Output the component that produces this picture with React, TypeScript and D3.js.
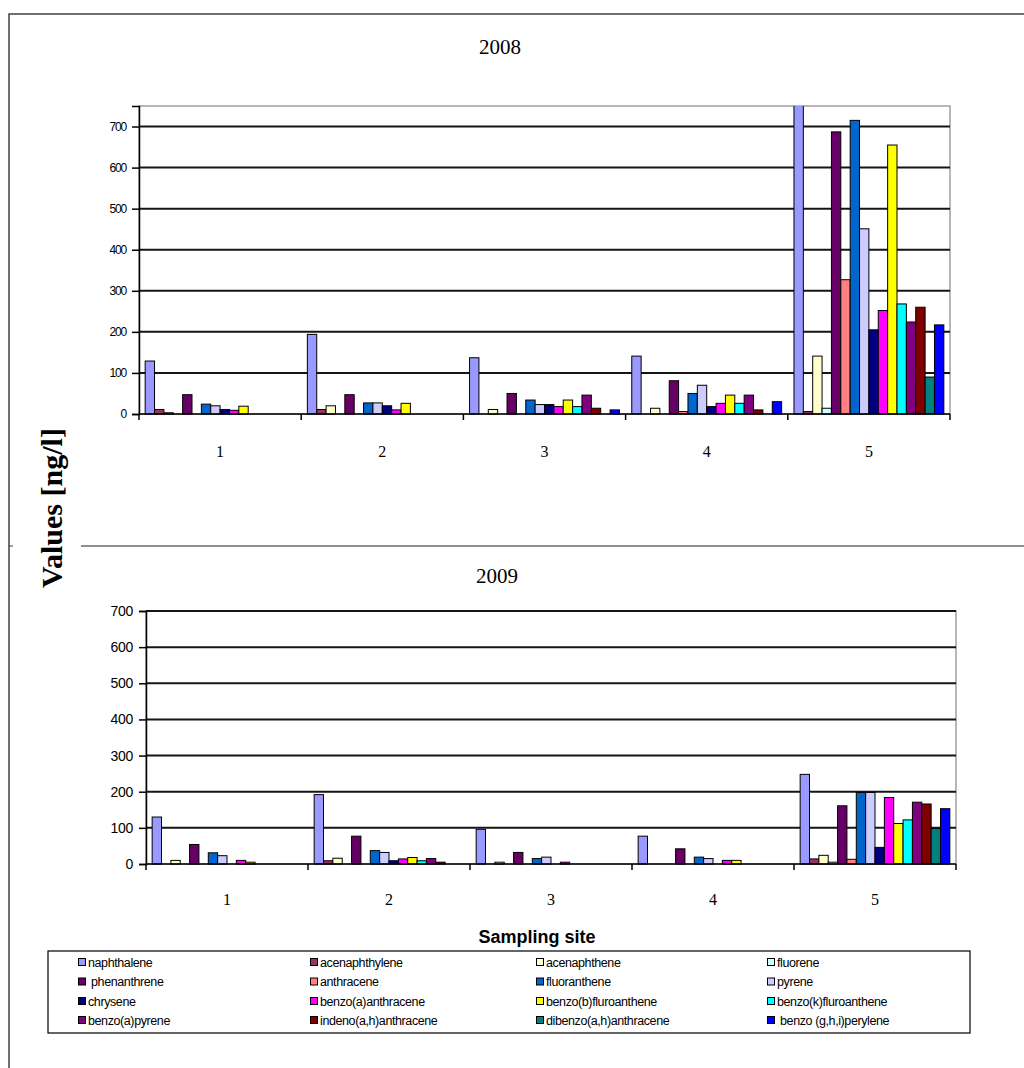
import { useEffect, useRef } from "react";
import * as d3 from "d3";

const sites = ["1", "2", "3", "4", "5"];

const compounds = [
  "naphthalene",
  "acenaphthylene",
  "acenaphthene",
  "fluorene",
  "phenanthrene",
  "anthracene",
  "fluoranthene",
  "pyrene",
  "chrysene",
  "benzo(a)anthracene",
  "benzo(b)fluoranthene",
  "benzo(k)fluoranthene",
  "benzo(a)pyrene",
  "indeno(a,h)anthracene",
  "dibenzo(a,h)anthracene",
  "benzo(g,h,i)perylene",
];

// legend texts as printed in the figure
const legendLabels = [
  "naphthalene",
  "acenaphthylene",
  "acenaphthene",
  "fluorene",
  " phenanthrene",
  "anthracene",
  "fluoranthene",
  "pyrene",
  "chrysene",
  "benzo(a)anthracene",
  "benzo(b)fluroanthene",
  "benzo(k)fluroanthene",
  "benzo(a)pyrene",
  "indeno(a,h)anthracene",
  "dibenzo(a,h)anthracene",
  " benzo (g,h,i)perylene",
];

const colors = [
  "#9999FF",
  "#993366",
  "#FFFFCC",
  "#CCFFFF",
  "#660066",
  "#FF8080",
  "#0066CC",
  "#CCCCFF",
  "#000080",
  "#FF00FF",
  "#FFFF00",
  "#00FFFF",
  "#800080",
  "#800000",
  "#008080",
  "#0000FF",
];

// one row per sampling site, one value per compound (ng/l)
const values2008 = [
  [129, 11, 3, 0, 47, 0, 24, 20, 11, 9, 19, 0, 0, 0, 0, 0],
  [194, 11, 20, 0, 47, 0, 27, 27, 20, 10, 26, 0, 0, 0, 0, 0],
  [137, 0, 11, 0, 50, 0, 34, 23, 23, 18, 34, 18, 46, 14, 0, 10],
  [141, 0, 14, 0, 81, 6, 50, 70, 18, 26, 46, 26, 46, 10, 0, 30],
  [800, 6, 141, 14, 687, 327, 715, 451, 205, 252, 655, 268, 224, 260, 90, 217],
];

const values2009 = [
  [130, 0, 10, 0, 54, 0, 31, 23, 0, 10, 5, 0, 0, 0, 0, 0],
  [192, 9, 16, 0, 77, 0, 37, 32, 9, 14, 18, 9, 15, 5, 0, 0],
  [96, 0, 5, 0, 32, 0, 15, 19, 0, 5, 0, 0, 0, 0, 0, 0],
  [77, 0, 0, 0, 42, 0, 19, 15, 0, 10, 10, 0, 0, 0, 0, 0],
  [248, 14, 24, 5, 161, 13, 198, 198, 46, 184, 112, 122, 171, 166, 98, 153],
];

const yTicks = [0, 100, 200, 300, 400, 500, 600, 700];

const SERIF = "'Liberation Serif', 'Times New Roman', serif";
const SANS = "'Liberation Sans', Arial, sans-serif";

interface PanelOpts {
  id: string;
  title: string;
  titleX: number;
  titleY: number;
  left: number;
  right: number;
  top: number;
  bottom: number;
  yMax: number;
  values: number[][];
  tickFont: number;
  tickSpacing: number;
  catY: number;
}

function drawPanel(
  svg: d3.Selection<SVGSVGElement, unknown, null, undefined>,
  o: PanelOpts
) {
  const g = svg.append("g");
  const y = d3.scaleLinear().domain([0, o.yMax]).range([o.bottom, o.top]);
  const x0 = d3
    .scaleBand<string>()
    .domain(sites)
    .range([o.left, o.right])
    .paddingInner(0.076)
    .paddingOuter(0.038);
  const x1 = d3
    .scaleBand<string>()
    .domain(compounds)
    .range([0, x0.bandwidth()]);

  g.append("text")
    .attr("x", o.titleX)
    .attr("y", o.titleY)
    .attr("text-anchor", "middle")
    .style("font-family", SERIF)
    .style("font-size", "21px")
    .text(o.title);

  // plot area border (grey top / right)
  g.append("rect")
    .attr("x", o.left)
    .attr("y", o.top)
    .attr("width", o.right - o.left)
    .attr("height", o.bottom - o.top)
    .attr("fill", "none")
    .attr("stroke", "#a0a0a0")
    .attr("stroke-width", 1.5);

  // gridlines
  g.selectAll(".grid")
    .data(yTicks.filter((t) => t > 0))
    .join("line")
    .attr("x1", o.left)
    .attr("x2", o.right)
    .attr("y1", (d) => y(d))
    .attr("y2", (d) => y(d))
    .attr("stroke", "#151515")
    .attr("stroke-width", 2);

  const clipId = `clip-${o.id}`;
  svg
    .append("clipPath")
    .attr("id", clipId)
    .append("rect")
    .attr("x", o.left)
    .attr("y", o.top)
    .attr("width", o.right - o.left)
    .attr("height", o.bottom - o.top + 1);

  const bars = g.append("g").attr("clip-path", `url(#${clipId})`);
  sites.forEach((site, si) => {
    bars
      .append("g")
      .attr("transform", `translate(${x0(site)},0)`)
      .selectAll("rect")
      .data(o.values[si].map((v, ci) => ({ v, ci })).filter((d) => d.v > 0))
      .join("rect")
      .attr("x", (d) => x1(compounds[d.ci]) as number)
      .attr("width", x1.bandwidth())
      .attr("y", (d) => y(d.v))
      .attr("height", (d) => o.bottom - y(d.v))
      .attr("fill", (d) => colors[d.ci])
      .attr("stroke", "#000")
      .attr("stroke-width", 1);
  });

  // y axis
  const yAxis = g
    .append("g")
    .attr("transform", `translate(${o.left},0)`)
    .call(d3.axisLeft(y).tickValues(yTicks).tickSize(7).tickPadding(6));
  yAxis.select(".domain").attr("stroke", "#000").attr("stroke-width", 1.5);
  yAxis.selectAll(".tick line").attr("stroke", "#000").attr("stroke-width", 1.5);
  yAxis
    .selectAll("text")
    .style("font-family", SANS)
    .style("font-size", `${o.tickFont}px`)
    .style("letter-spacing", `${o.tickSpacing}px`)
    .attr("fill", "#000");

  // x axis: line with ticks at category boundaries
  g.append("line")
    .attr("x1", o.left)
    .attr("x2", o.right)
    .attr("y1", o.bottom)
    .attr("y2", o.bottom)
    .attr("stroke", "#000")
    .attr("stroke-width", 1.5);
  const step = x0.step();
  g.selectAll(".xtick")
    .data(d3.range(sites.length + 1))
    .join("line")
    .attr("x1", (i) => o.left + i * step)
    .attr("x2", (i) => o.left + i * step)
    .attr("y1", o.bottom)
    .attr("y2", o.bottom + 6)
    .attr("stroke", "#000")
    .attr("stroke-width", 1.5);
  g.selectAll(".xlab")
    .data(sites)
    .join("text")
    .attr("x", (d) => (x0(d) as number) + x0.bandwidth() / 2)
    .attr("y", o.catY)
    .attr("text-anchor", "middle")
    .style("font-family", SERIF)
    .style("font-size", "16px")
    .text((d) => d);
}

function App() {
  const svgRef = useRef<SVGSVGElement | null>(null);

  useEffect(() => {
    if (!svgRef.current) return;
    const svg = d3.select(svgRef.current);
    svg.selectAll("*").remove();

    svg.append("rect").attr("width", 1024).attr("height", 1068).attr("fill", "#fff");

    // outer frame lines
    svg
      .append("path")
      .attr("d", "M9,1068 L9,14 L1024,14")
      .attr("fill", "none")
      .attr("stroke", "#404040")
      .attr("stroke-width", 1.5);
    svg
      .append("line")
      .attr("x1", 81)
      .attr("x2", 1024)
      .attr("y1", 546)
      .attr("y2", 546)
      .attr("stroke", "#202020")
      .attr("stroke-width", 1.2);
    svg
      .append("line")
      .attr("x1", 9)
      .attr("x2", 13)
      .attr("y1", 546)
      .attr("y2", 546)
      .attr("stroke", "#404040");

    drawPanel(svg, {
      id: "p2008",
      title: "2008",
      titleX: 500,
      titleY: 54,
      left: 139,
      right: 950,
      top: 106,
      bottom: 414,
      yMax: 750,
      values: values2008,
      tickFont: 12,
      tickSpacing: -1.2,
      catY: 457,
    });

    drawPanel(svg, {
      id: "p2009",
      title: "2009",
      titleX: 497,
      titleY: 583,
      left: 146,
      right: 956,
      top: 611,
      bottom: 864,
      yMax: 700,
      values: values2009,
      tickFont: 14,
      tickSpacing: -0.3,
      catY: 905,
    });

    // y axis title
    svg
      .append("text")
      .attr("transform", "translate(62,508) rotate(-90)")
      .attr("text-anchor", "middle")
      .style("font-family", SERIF)
      .style("font-size", "30px")
      .style("font-weight", "bold")
      .text("Values [ng/l]");

    // x axis title
    svg
      .append("text")
      .attr("x", 537)
      .attr("y", 943)
      .attr("text-anchor", "middle")
      .style("font-family", SANS)
      .style("font-size", "18px")
      .style("font-weight", "bold")
      .text("Sampling site");

    // legend
    const legend = svg.append("g");
    legend
      .append("rect")
      .attr("x", 48)
      .attr("y", 951)
      .attr("width", 922)
      .attr("height", 82)
      .attr("fill", "#fff")
      .attr("stroke", "#000")
      .attr("stroke-width", 1.2);
    const colX = [82, 314, 540, 771];
    const rowY = [962, 981.5, 1001, 1020];
    legendLabels.forEach((label, i) => {
      const cx = colX[i % 4];
      const cy = rowY[Math.floor(i / 4)];
      legend
        .append("rect")
        .attr("x", cx - 3.5)
        .attr("y", cy - 3.5)
        .attr("width", 7)
        .attr("height", 7)
        .attr("fill", colors[i])
        .attr("stroke", "#000")
        .attr("stroke-width", 1);
      legend
        .append("text")
        .attr("x", cx + 6)
        .attr("y", cy + 4.5)
        .attr("xml:space", "preserve")
        .style("white-space", "pre")
        .style("font-family", SANS)
        .style("font-size", "12.5px")
        .style("letter-spacing", "-0.4px")
        .text(label);
    });
  }, []);

  return (
    <svg
      ref={svgRef}
      width={1024}
      height={1068}
      style={{ position: "absolute", left: 0, top: 0 }}
    />
  );
}

export default App;
